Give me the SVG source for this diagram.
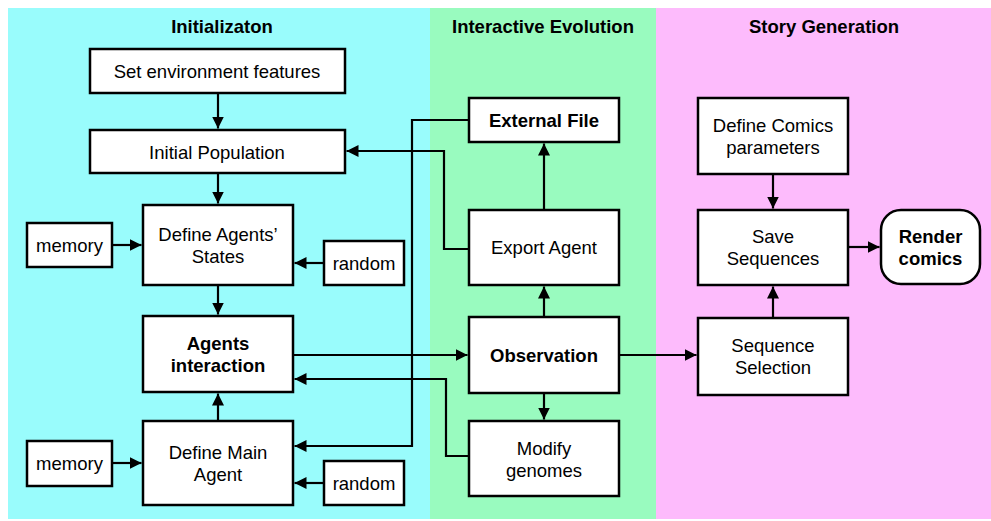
<svg xmlns="http://www.w3.org/2000/svg" width="991" height="521" viewBox="0 0 991 521">
<defs>
<marker id="ah" viewBox="0 0 12 12" markerUnits="userSpaceOnUse" markerWidth="12" markerHeight="12" refX="12" refY="6" orient="auto">
<path d="M0,0 L12,6 L0,12 z" fill="#000"/>
</marker>
<style>
text{font-family:"Liberation Sans",Arial,Helvetica,sans-serif;font-size:18.5px;fill:#000;text-anchor:middle}
.b{font-weight:bold}
.t{font-weight:bold;font-size:18.5px}
rect.n{fill:#fff;stroke:#000;stroke-width:2.5}
.c path,.c line{fill:none;stroke:#000;stroke-width:2.2;marker-end:url(#ah)}
</style>
</defs>
<rect x="0" y="0" width="991" height="521" fill="#fff"/>
<rect x="8" y="8" width="422" height="511" fill="#99FCFC"/>
<rect x="430" y="8" width="226" height="511" fill="#99FBBF"/>
<rect x="656" y="8" width="335" height="511" fill="#FDBBFC"/>
<text class="t" x="222" y="33">Initializaton</text>
<text class="t" x="543" y="33">Interactive Evolution</text>
<text class="t" x="824" y="33">Story Generation</text>

<g id="set-env"><rect class="n" x="90" y="49" width="255" height="44"/><text x="217" y="77.5">Set environment features</text></g>
<g id="init-pop"><rect class="n" x="90" y="130" width="255" height="43"/><text x="217" y="158.5">Initial Population</text></g>
<g id="define-states"><rect class="n" x="143" y="205" width="150" height="80"/><text x="218" y="241">Define Agents’</text><text x="218" y="263">States</text></g>
<g id="memory1"><rect class="n" x="27" y="223" width="85" height="44"/><text x="69.5" y="251.5">memory</text></g>
<g id="random1"><rect class="n" x="324" y="241" width="80" height="44"/><text x="364" y="269.5">random</text></g>
<g id="agents-interaction"><rect class="n" x="143" y="316" width="150" height="76"/><text class="b" x="218" y="350">Agents</text><text class="b" x="218" y="372">interaction</text></g>
<g id="define-main"><rect class="n" x="143" y="421" width="150" height="84"/><text x="218" y="459">Define Main</text><text x="218" y="481">Agent</text></g>
<g id="memory2"><rect class="n" x="27" y="441" width="85" height="45"/><text x="69.5" y="469.5">memory</text></g>
<g id="random2"><rect class="n" x="324" y="461" width="80" height="44"/><text x="364" y="489.5">random</text></g>

<g id="external-file"><rect class="n" x="469" y="98" width="150" height="44"/><text class="b" x="544" y="126.5">External File</text></g>
<g id="export-agent"><rect class="n" x="469" y="210" width="150" height="75"/><text x="544" y="254">Export Agent</text></g>
<g id="observation"><rect class="n" x="469" y="317" width="150" height="76"/><text class="b" x="544" y="361.5">Observation</text></g>
<g id="modify-genomes"><rect class="n" x="469" y="421" width="150" height="75"/><text x="544" y="455">Modify</text><text x="544" y="477">genomes</text></g>

<g id="define-comics"><rect class="n" x="698" y="98" width="150" height="76"/><text x="773" y="132">Define Comics</text><text x="773" y="154">parameters</text></g>
<g id="save-sequences"><rect class="n" x="698" y="210" width="150" height="75"/><text x="773" y="243">Save</text><text x="773" y="265">Sequences</text></g>
<g id="render-comics"><rect class="n" x="881" y="210" width="99" height="74" rx="20" ry="20"/><text class="b" x="930.5" y="243">Render</text><text class="b" x="930.5" y="265">comics</text></g>
<g id="sequence-selection"><rect class="n" x="698" y="318" width="150" height="77"/><text x="773" y="352">Sequence</text><text x="773" y="374">Selection</text></g>

<g id="connectors" class="c">
<line x1="218" y1="93" x2="218" y2="128.5"/>
<line x1="218" y1="173" x2="218" y2="203.5"/>
<line x1="218" y1="285" x2="218" y2="314.5"/>
<line x1="218" y1="421" x2="218" y2="393.5"/>
<line x1="112" y1="245" x2="141.5" y2="245"/>
<line x1="324" y1="263" x2="294.5" y2="263"/>
<line x1="112" y1="463" x2="141.5" y2="463"/>
<line x1="324" y1="483" x2="294.5" y2="483"/>
<path d="M469,120 H412 V446 H294.5"/>
<path d="M469,249 H444 V151 H346.5"/>
<line x1="293" y1="355" x2="467.5" y2="355"/>
<path d="M469,456 H446 V379 H294.5"/>
<line x1="544" y1="317" x2="544" y2="286.5"/>
<line x1="544" y1="210" x2="544" y2="143.5"/>
<line x1="544" y1="393" x2="544" y2="419.5"/>
<line x1="619" y1="355" x2="696.5" y2="355"/>
<line x1="773" y1="174" x2="773" y2="208.5"/>
<line x1="773" y1="318" x2="773" y2="286.5"/>
<line x1="848" y1="247" x2="879.5" y2="247"/>
</g>
</svg>
